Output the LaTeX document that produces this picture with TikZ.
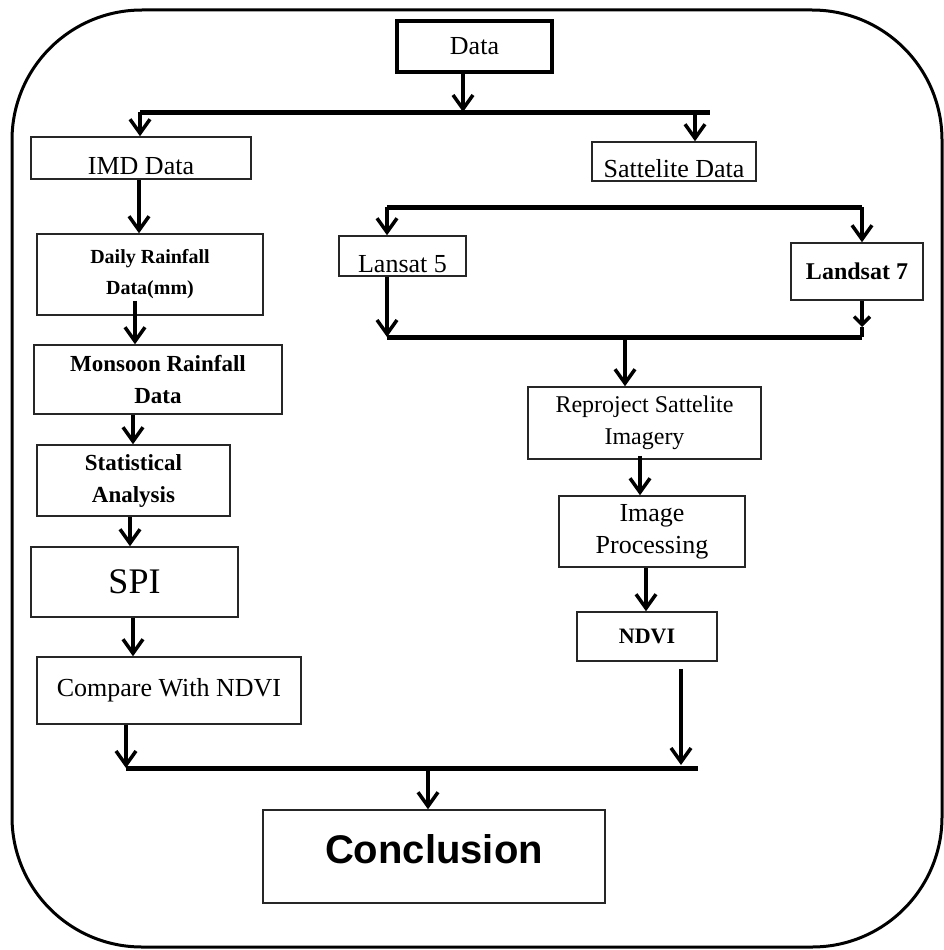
\documentclass[tikz,border=0pt]{standalone}
\usepackage{fontspec}
\setmainfont{Liberation Serif}
\newfontfamily\headfont{Liberation Sans}
\usepackage{tikz}
\usetikzlibrary{arrows.meta}

\tikzset{
  box/.style={draw=black!85, line width=1.5pt, rectangle, inner sep=0pt, align=center,
    font=\fontsize{26}{32}\selectfont},
  boldbox/.style={box, font=\bfseries\fontsize{23}{32}\selectfont},
  lowtext/.style={text height=34pt, text depth=2pt},
  bus/.style={line width=5pt},
  arr/.style={line width=3.5pt, -{Straight Barb[length=14pt,width=20pt]}},
}

\begin{document}
\begin{tikzpicture}[x=1pt,y=-1pt]
  \useasboundingbox (0,0) rectangle (944,950);
  % frame
  \draw[line width=3pt, rounded corners=130pt] (12,10) rectangle (942,947);

  % boxes
  \node[box, draw=black, line width=4pt, minimum width=155pt, minimum height=51pt] (data) at (474.5,46.5) {Data};
  \node[box, lowtext, minimum width=220pt, minimum height=42pt] (imd) at (141,158) {IMD Data};
  \node[box, lowtext, minimum width=164pt, minimum height=39pt] (sat) at (674,161.5) {Sattelite Data};
  \node[boldbox, font=\bfseries\fontsize{20}{31}\selectfont, minimum width=226pt, minimum height=81pt] (daily) at (150,274.5) {Daily Rainfall\\Data(mm)};
  \node[boldbox, minimum width=248pt, minimum height=69pt] (monsoon) at (158,379.5) {Monsoon Rainfall\\Data};
  \node[boldbox, minimum width=193pt, minimum height=71pt] (stat) at (133.5,480.5) {Statistical\\Analysis};
  \node[box, font=\fontsize{36}{40}\selectfont, minimum width=207pt, minimum height=70pt] (spi) at (134.5,582) {SPI};
  \node[box, minimum width=264pt, minimum height=67pt] (compare) at (169,690.5) {Compare With NDVI};
  \node[box, lowtext, minimum width=127pt, minimum height=40pt] (lansat) at (402.5,256) {Lansat 5};
  \node[boldbox, font=\bfseries\fontsize{24}{30}\selectfont, minimum width=132pt, minimum height=57pt] (landsat) at (857,271.5) {Landsat 7};
  \node[box, font=\fontsize{24}{32}\selectfont, minimum width=233pt, minimum height=72pt] (reproj) at (644.5,423) {Reproject Sattelite\\Imagery};
  \node[box, minimum width=186pt, minimum height=71pt] (improc) at (652,531.5) {Image\\Processing};
  \node[boldbox, font=\bfseries\fontsize{22}{28}\selectfont, minimum width=140pt, minimum height=49pt] (ndvi) at (647,636.5) {NDVI};
  \node[box, font=\headfont\bfseries\fontsize{40}{46}\selectfont, text height=29pt, text depth=16pt, minimum width=342pt, minimum height=93pt] (concl) at (434,856.5) {Conclusion};

  % bus points
  \coordinate (topL) at (140,112);
  \coordinate (topM) at (463,112);
  \coordinate (topS) at (695,112);
  \coordinate (topR) at (710,112);
  \coordinate (satL) at (387,207);
  \coordinate (satR) at (862,207);
  \coordinate (joinL) at (387,337);
  \coordinate (joinM) at (625,337);
  \coordinate (joinR) at (862,337);
  \coordinate (endL) at (126,768);
  \coordinate (endM) at (428,768);
  \coordinate (endN) at (681,768);
  \coordinate (endR) at (698,768);

  % buses
  \draw[bus] (topL) -- (topR);
  \draw[bus] (satL) -- (satR);
  \draw[bus] (joinL) -- (joinR);
  \draw[bus] (endL) -- (endR);

  % connectors
  \draw[arr] (data.south -| topM) -- (topM);
  \draw[arr] (topL) -- (topL |- imd.north);
  \draw[arr] (topS) -- (topS |- sat.north);
  \draw[arr] (imd.south -| 139,0) -- (daily.north -| 139,0);
  \draw[arr] ([yshift=15pt]daily.south -| 135,0) -- (monsoon.north -| 135,0);
  \draw[arr] (monsoon.south -| 133,0) -- (stat.north -| 133,0);
  \draw[arr] (stat.south -| 130,0) -- (spi.north -| 130,0);
  \draw[arr] (spi.south -| 133,0) -- (compare.north -| 133,0);
  \draw[arr] (compare.south -| endL) -- (endL);
  \draw[arr] ([yshift=-7pt]ndvi.south -| endN) -- ([yshift=3pt]endN);
  \draw[arr] (endM) -- (endM |- concl.north);
  \draw[arr] (satL) -- (satL |- lansat.north);
  \draw[arr] (satR) -- (satR |- landsat.north);
  \draw[arr] (lansat.south -| joinL) -- (joinL);
  \draw[line width=3.5pt, -{Straight Barb[length=8pt,width=16pt]}] (landsat.south -| joinR) -- ([yshift=10pt]joinR);
  \draw[line width=3.5pt] ([yshift=10pt]joinR) -- (joinR);
  \draw[arr] (joinM) -- (joinM |- reproj.north);
  \draw[arr] ([yshift=4pt]reproj.south -| 640,0) -- (improc.north -| 640,0);
  \draw[arr] (improc.south -| 646,0) -- (ndvi.north -| 646,0);
\end{tikzpicture}
\end{document}
